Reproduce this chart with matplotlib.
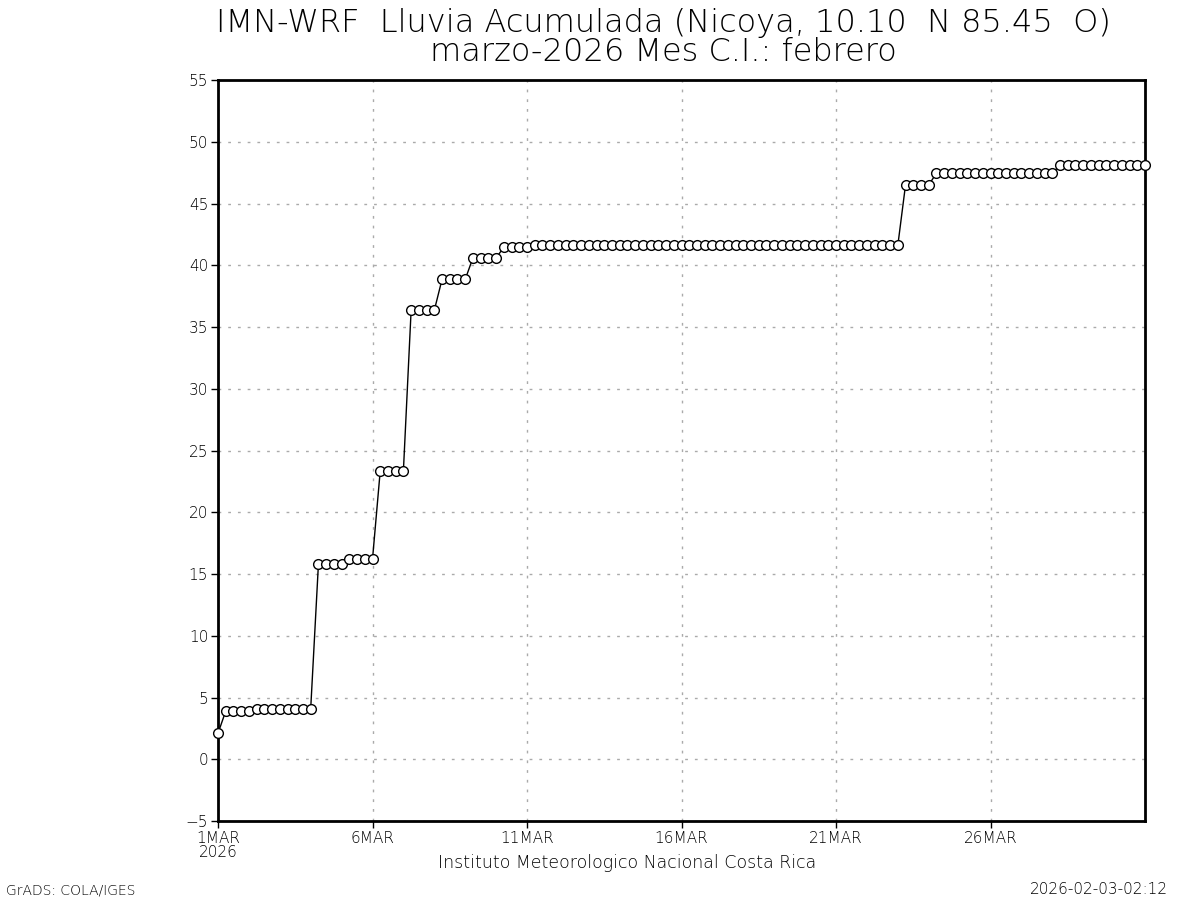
import matplotlib
matplotlib.use("Agg")
import matplotlib.pyplot as plt
import numpy as np

# Accumulated rainfall (mm), 6-hourly, 1 MAR 00Z .. 31 MAR 00Z
rain = ([2.1] + [3.9]*4 + [4.1]*8 + [15.8]*4 + [16.2]*4 + [23.35]*4 +
        [36.35]*4 + [38.85]*4 + [40.6]*4 + [41.45]*4 + [41.6]*48 +
        [46.5]*4 + [47.45]*16 + [48.1]*12)
steps_per_day = 4
days = np.arange(len(rain)) / steps_per_day

xtick_days = [0, 5, 10, 15, 20, 25]
xtick_labels = ["1MAR\n2026", "6MAR", "11MAR", "16MAR", "21MAR", "26MAR"]
yticks = list(range(-5, 56, 5))

title = "IMN-WRF  Lluvia Acumulada (Nicoya, 10.10  N 85.45  O)\nmarzo-2026 Mes C.I.: febrero"

plt.rcParams['font.family'] = ["DejaVu Sans"]

fig = plt.figure(figsize=(12, 9), dpi=100)
ax = fig.add_axes([218/1200, 1 - 821/900, (1145-218)/1200, (821-80)/900])

ax.plot(days, rain, color="black", lw=1.0, marker="o", markersize=7,
        markerfacecolor="white", markeredgecolor="black", markeredgewidth=1.0,
        clip_on=False, zorder=3)

ax.set_xlim(0, 30)
ax.set_ylim(-5, 55)
ax.set_yticks(yticks)
ax.set_yticklabels([str(v).replace("-", "\u2212") for v in yticks])
ax.set_xticks(xtick_days)
ax.set_xticklabels(xtick_labels, linespacing=0.95)
for lab in ax.get_xticklabels():
    lab.set_horizontalalignment("center")
    lab.set_multialignment("center")

ax.grid(True, color="#aaaaaa", linestyle=(0, (2, 5)), linewidth=1.0)
ax.set_axisbelow(True)
for s in ax.spines.values():
    s.set_linewidth(2.0)
    s.set_color("black")
ax.tick_params(direction="out", length=5, width=1, labelsize=11, pad=2,
               labelcolor="black")
for lab in ax.get_xticklabels() + ax.get_yticklabels():
    lab.set_fontweight(200)

fig.text(663/1200, 1 - 8/900, title, ha="center", va="top", color="black",
         fontsize=23, linespacing=0.95, fontweight=200)
fig.text(627/1200, 1 - 863/900, "Instituto Meteorologico Nacional Costa Rica",
         ha="center", va="center", fontsize=12.5, fontweight=200, color="black")
fig.text(6/1200, 1 - 890/900, "GrADS: COLA/IGES", ha="left", va="center",
         fontsize=10, fontweight=200, color="black")
fig.text(1168/1200, 1 - 890/900, "2026-02-03-02:12", ha="right", va="center",
         fontsize=11, fontweight=200, color="black")

fig.savefig("out.png", dpi=100, facecolor="white")
